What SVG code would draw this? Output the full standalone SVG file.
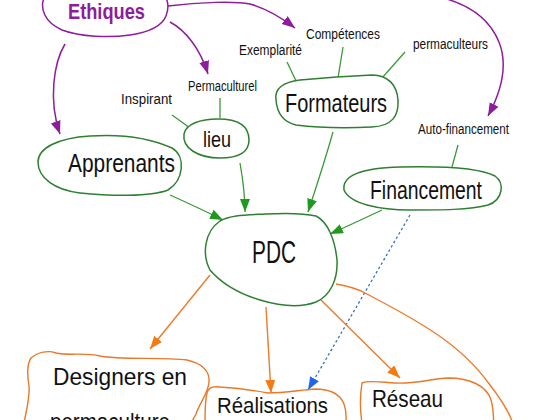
<svg xmlns="http://www.w3.org/2000/svg" width="540" height="420" viewBox="0 0 540 420">
<style>
  .bg{fill:#ffffff}
  .gn{fill:#ffffff;stroke:#2f7f32;stroke-width:1.5}
  .on{fill:#ffffff;stroke:#e8792a;stroke-width:1.4}
  .pn{fill:#ffffff;stroke:#8d1d9b;stroke-width:1.5}
  .t{font-family:"Liberation Sans",Arial,sans-serif;fill:#111111}
  .big{font-size:26px}
  .small{font-size:14px}
  .pc{fill:none;stroke:#8d1d9b;stroke-width:1.5}
  .gc{fill:none;stroke:#3a9a3a;stroke-width:1.3}
  .oc{fill:none;stroke:#ee7a2a;stroke-width:1.4}
  .bc{fill:none;stroke:#3a6fc4;stroke-width:1.3;stroke-dasharray:2.5 2.5}
</style>
<defs>
  <marker id="ap" markerUnits="userSpaceOnUse" markerWidth="14" markerHeight="12" refX="13" refY="5" orient="auto"><path d="M0,0 L13,5 L0,10 z" fill="#8d1d9b"/></marker>
  <marker id="ag" markerUnits="userSpaceOnUse" markerWidth="14" markerHeight="12" refX="13" refY="5" orient="auto"><path d="M0,0 L13,5 L0,10 z" fill="#1f9a1f"/></marker>
  <marker id="ao" markerUnits="userSpaceOnUse" markerWidth="14" markerHeight="12" refX="13" refY="5" orient="auto"><path d="M0,0 L13,5 L0,10 z" fill="#f47a12"/></marker>
  <marker id="ab" markerUnits="userSpaceOnUse" markerWidth="14" markerHeight="12" refX="13" refY="5" orient="auto"><path d="M0,0 L13,5 L0,10 z" fill="#1e66f0"/></marker>
</defs>
<rect class="bg" x="0" y="0" width="540" height="420"/>

<g id="connectors">
  <!-- purple -->
  <path class="pc" d="M168,6 C200,2 235,1 250,4 C268,9 282,18 295,28" marker-end="url(#ap)"/>
  <path class="pc" d="M447,-1 C470,6 490,20 499,42 C507,62 503,88 488,116" marker-end="url(#ap)"/>
  <path class="pc" d="M170,22 C185,30 200,48 208,74" marker-end="url(#ap)"/>
  <path class="pc" d="M65,44 C54,62 48,100 60,134" marker-end="url(#ap)"/>
  <!-- green label lines -->
  <path class="gc" d="M172,115 L190,128"/>
  <path class="gc" d="M220,98 L220,118"/>
  <path class="gc" d="M287,62 L298,85"/>
  <path class="gc" d="M343,47 L338,78"/>
  <path class="gc" d="M405,52 L382,78"/>
  <path class="gc" d="M458,145 L452,167"/>
  <!-- green arrows -->
  <path class="gc" d="M170,195 C190,204 207,212 223,220" marker-end="url(#ag)"/>
  <path class="gc" d="M240,163 C243,180 245,195 245,212" marker-end="url(#ag)"/>
  <path class="gc" d="M333,132 C325,160 316,188 308,212" marker-end="url(#ag)"/>
  <path class="gc" d="M382,210 C365,218 348,226 330,234" marker-end="url(#ag)"/>
  <!-- blue dotted -->
  <path class="bc" d="M410,215 L308,390" marker-end="url(#ab)"/>
  <!-- orange -->
  <path class="oc" d="M210,275 L150,349" marker-end="url(#ao)"/>
  <path class="oc" d="M266,307 L271,393" marker-end="url(#ao)"/>
  <path class="oc" d="M321,300 L400,378" marker-end="url(#ao)"/>
  <path class="oc" d="M336,284 C348,286 356,288 365,293 C390,306 412,318 432,331 C455,346 475,364 490,385 C500,398 508,410 512,421"/>
</g>

<g id="ethiques">
  <path class="pn" d="M44,-2 C40,8 44,22 62,30 C80,37 110,38 130,35 C150,32 162,26 166,16 C169,8 168,2 166,-2"/>
  <text class="t" x="68" y="19" font-size="22" font-weight="bold" fill="#8d1d9b" style="fill:#8d1d9b" textLength="77" lengthAdjust="spacingAndGlyphs">Ethiques</text>
</g>

<g id="apprenants">
  <path class="gn" d="M38,162 C38,148 58,138 90,136 C120,134 150,138 172,148 C186,156 184,180 168,190 C150,197 110,196 80,193 C55,190 38,178 38,162 Z"/>
  <text class="t big" x="68" y="172" textLength="107" lengthAdjust="spacingAndGlyphs">Apprenants</text>
</g>

<g id="lieu">
  <path class="gn" d="M184,134 C186,124 200,119 218,119 C238,119 249,126 249,140 C249,152 240,158 220,158 C198,158 182,148 184,134 Z"/>
  <text class="t" x="203" y="147" font-size="22" textLength="28" lengthAdjust="spacingAndGlyphs">lieu</text>
</g>

<g id="formateurs">
  <path class="gn" d="M276,100 C274,88 284,82 300,80 C320,78 345,76 372,75 C388,75 397,85 398,100 C399,116 392,126 372,127 C350,128 320,128 296,125 C283,122 277,112 276,100 Z"/>
  <text class="t big" x="285" y="112" textLength="102" lengthAdjust="spacingAndGlyphs">Formateurs</text>
</g>

<g id="financement">
  <path class="gn" d="M344,190 C342,176 360,168 400,167 C440,166 478,167 495,176 C505,183 503,200 488,205 C470,210 440,210 410,210 C380,210 350,204 344,190 Z"/>
  <text class="t big" x="370" y="199" textLength="112" lengthAdjust="spacingAndGlyphs">Financement</text>
</g>

<g id="pdc">
  <path class="gn" d="M220,221 C230,215 245,215 265,214 C285,213 303,213 316,216 C328,222 335,240 337,260 C338,280 330,296 316,302 C300,308 280,306 260,300 C240,294 222,284 210,270 C202,255 204,232 220,221 Z"/>
  <text class="t" x="252" y="263" font-size="32" textLength="44" lengthAdjust="spacingAndGlyphs">PDC</text>
</g>

<g id="designers">
  <path class="on" d="M31,358 C38,352 48,350 56,353 C70,356 85,352 100,356 C120,360 160,357 187,360 C200,363 210,370 209,382 C208,394 200,402 196,414 C194,418 192,421 191,423 L24,423 C26,412 30,398 29,386 C27,374 27,364 31,358 Z"/>
  <text class="t" x="53" y="385" font-size="24" textLength="134" lengthAdjust="spacingAndGlyphs">Designers en</text>
  <text class="t" x="50" y="430" font-size="24" textLength="120" lengthAdjust="spacingAndGlyphs">permaculture</text>
</g>

<g id="realisations">
  <path class="on" d="M207,393 C208,388 212,386 220,387 C235,388 252,390 268,393 C285,393 300,390 315,389 C330,389 340,394 344,404 C347,412 346,418 346,423 L205,423 C205,412 205,400 207,393 Z"/>
  <text class="t" x="217" y="413" font-size="22" textLength="111" lengthAdjust="spacingAndGlyphs">Réalisations</text>
</g>

<g id="reseau">
  <path class="on" d="M362,383 C368,380 380,382 395,383 C415,384 430,379 448,378 C470,378 487,386 491,400 C494,410 493,418 494,423 L362,423 C360,410 360,395 362,383 Z"/>
  <text class="t" x="372" y="407" font-size="24" textLength="71" lengthAdjust="spacingAndGlyphs">Réseau</text>
</g>

<g id="labels">
  <text class="t small" x="121" y="104" textLength="51" lengthAdjust="spacingAndGlyphs">Inspirant</text>
  <text class="t small" x="188" y="91" textLength="69" lengthAdjust="spacingAndGlyphs">Permaculturel</text>
  <text class="t small" x="239" y="55" textLength="63" lengthAdjust="spacingAndGlyphs">Exemplarité</text>
  <text class="t small" x="306" y="39" textLength="74" lengthAdjust="spacingAndGlyphs">Compétences</text>
  <text class="t small" x="413" y="49" textLength="75" lengthAdjust="spacingAndGlyphs">permaculteurs</text>
  <text class="t small" x="418" y="134" textLength="91" lengthAdjust="spacingAndGlyphs">Auto-financement</text>
</g>
</svg>
